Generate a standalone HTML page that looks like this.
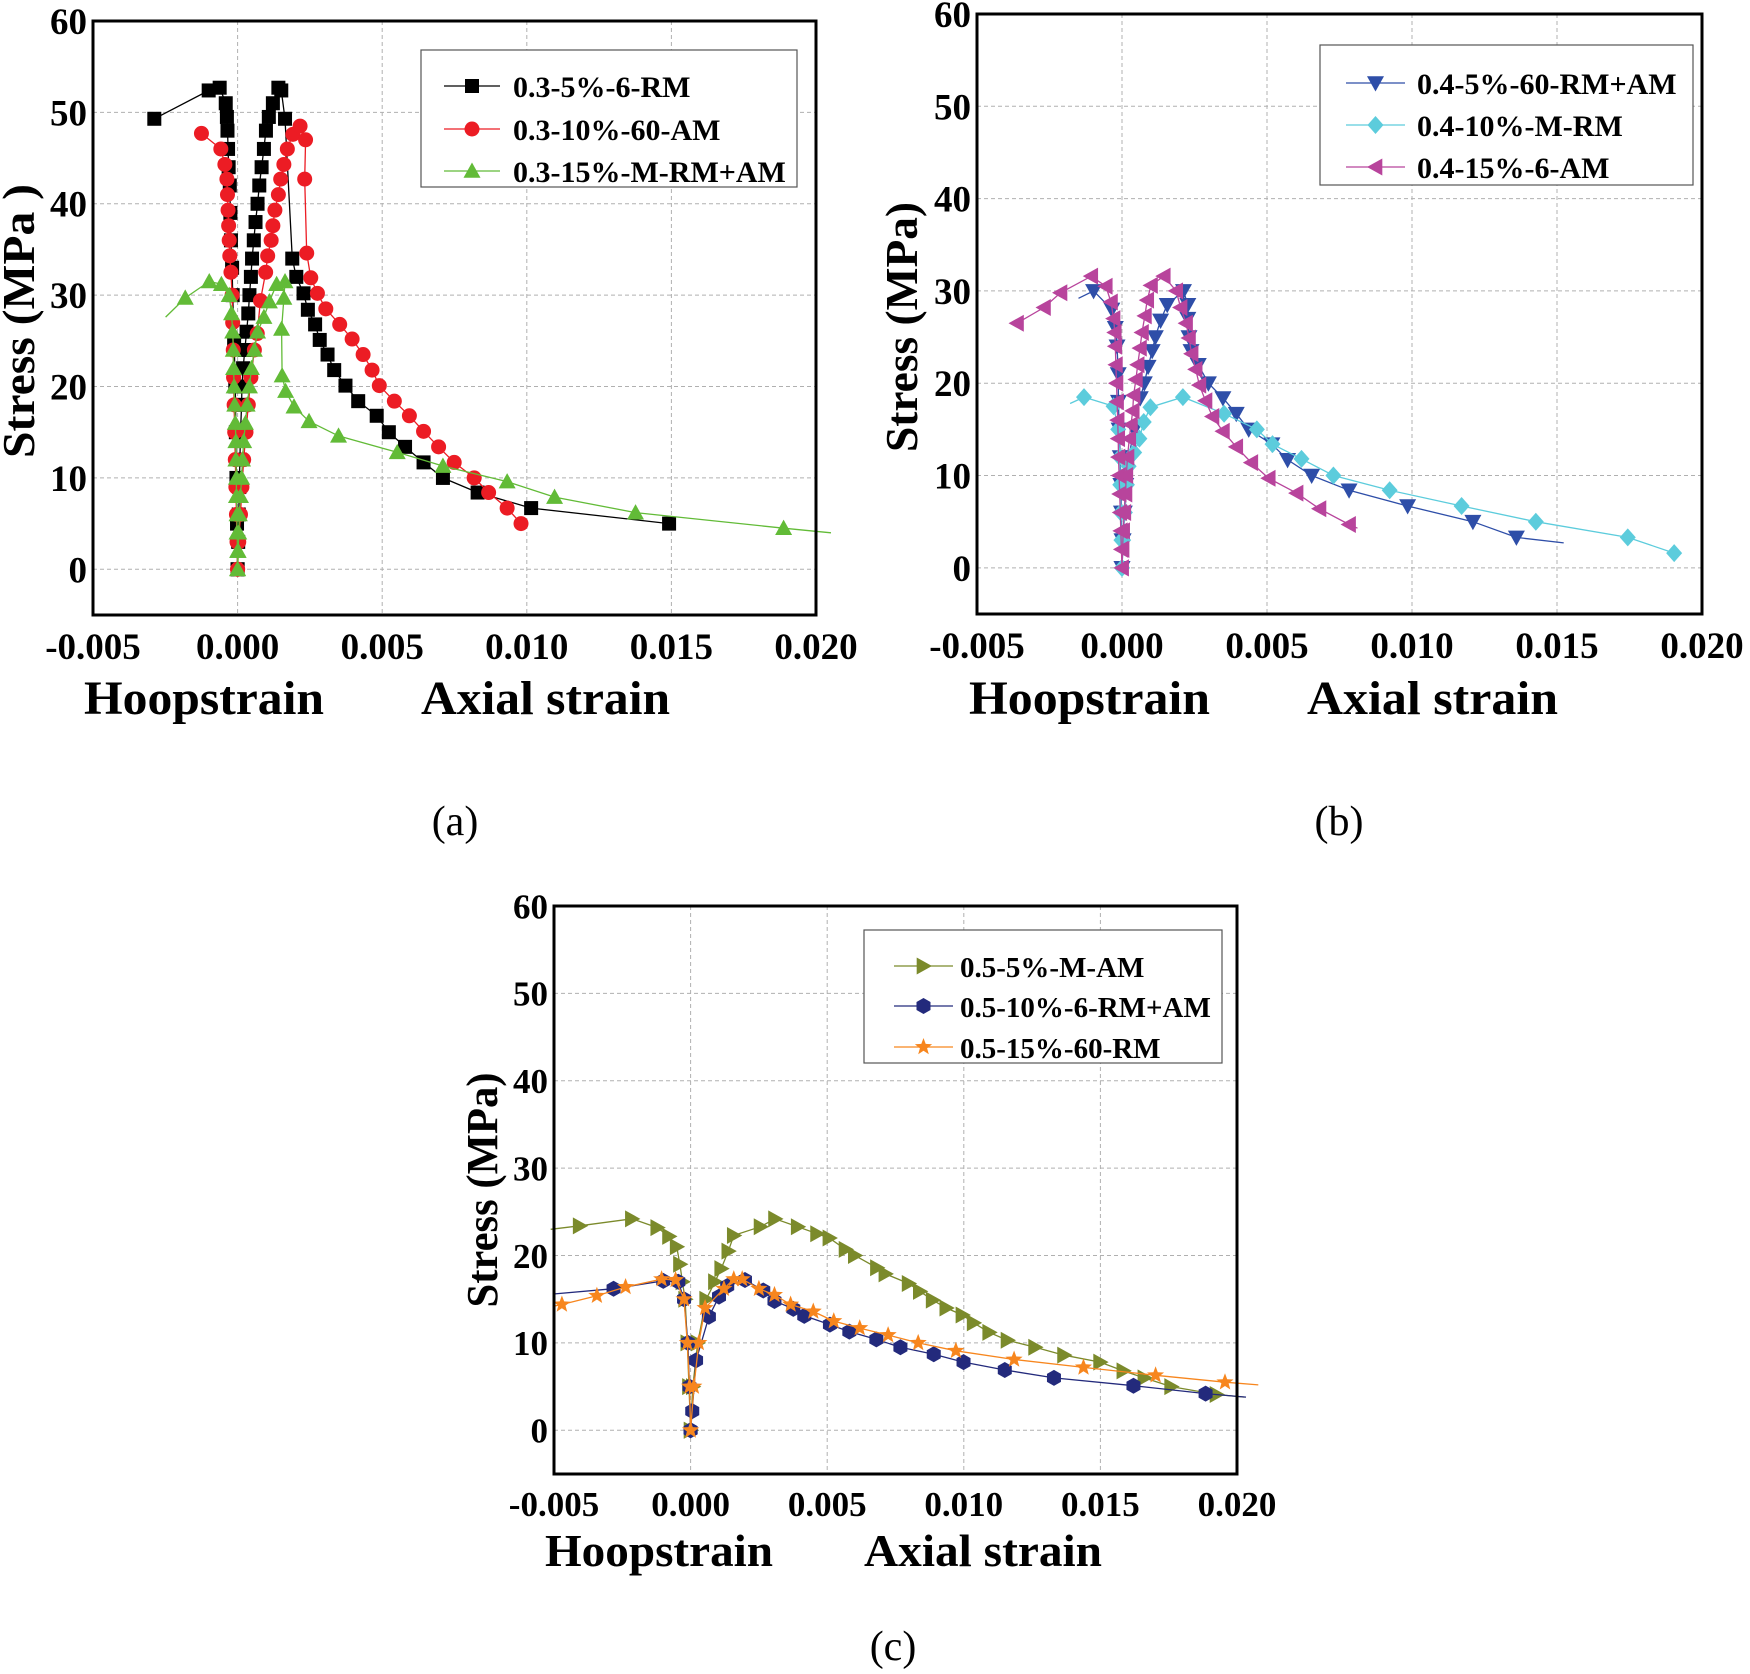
<!DOCTYPE html>
<html><head><meta charset="utf-8"><style>
html,body{margin:0;padding:0;background:#fff;}
svg{display:block;font-family:"Liberation Serif",serif;}
</style></head><body>
<svg id="fig" width="1750" height="1674" viewBox="0 0 1750 1674" xmlns="http://www.w3.org/2000/svg"></svg>
<script>
// ---------- data (strain in 1e-3 units, stress in MPa) ----------
const xTicks = [-0.005, 0.000, 0.005, 0.010, 0.015, 0.020];
const xTickLabels = ["-0.005", "0.000", "0.005", "0.010", "0.015", "0.020"];
const yTicks = [0, 10, 20, 30, 40, 50, 60];
const yTickLabels = ["0", "10", "20", "30", "40", "50", "60"];

// Panel (a)
const a1Names = ["0.3-5%-6-RM", "0.3-10%-60-AM", "0.3-15%-M-RM+AM"];
const a1HoopX = [0,-0.02,-0.04,-0.06,-0.08,-0.12,-0.17,-0.19,-0.23,-0.25,-0.27,-0.31,-0.33,-0.35,-0.37,-0.41,-0.62,-1.0,-2.88];
const a1HoopY = [0,5,10,15,20,25,30,33,36,39,42,44,46,48,49.5,51,52.7,52.4,49.3];
const a1AxX = [0,0.02,0.04,0.06,0.08,0.1,0.14,0.15,0.19,0.25,0.31,0.37,0.41,0.46,0.5,0.56,0.62,0.69,0.75,0.83,0.91,0.98,1.08,1.22,1.41,1.51,1.64,1.89,2.03,2.28,2.43,2.68,2.84,3.11,3.34,3.73,4.17,4.81,5.23,5.79,6.43,7.1,8.3,10.15,14.92];
const a1AxY = [0,3,6,9,12,15,18,20,22,24,26,28,30,32,34,36,38,40,42,44,46,48,49.5,51,52.7,52.4,49.3,34,32,30.2,28.4,26.8,25.1,23.5,21.8,20.1,18.4,16.8,15,13.4,11.7,10,8.4,6.7,5];
const a2HoopX = [0,-0.02,-0.04,-0.06,-0.08,-0.1,-0.12,-0.14,-0.15,-0.17,-0.19,-0.23,-0.27,-0.29,-0.31,-0.33,-0.35,-0.37,-0.44,-0.58,-1.25];
const a2HoopY = [0,3,6,9,12,15,18,21,24,27,30,32.5,34.3,36,37.6,39.3,41,42.7,44.3,46,47.7];
const a2AxX = [0,0.04,0.1,0.15,0.21,0.29,0.37,0.46,0.58,0.68,0.79,0.97,1.04,1.16,1.22,1.29,1.41,1.49,1.6,1.72,1.91,2.16,2.35,2.32,2.39,2.53,2.76,3.05,3.53,3.96,4.34,4.65,4.9,5.42,5.94,6.43,6.95,7.49,8.18,8.68,9.32,9.8];
const a2AxY = [0,3,6,9,12,15,18,21,24,25.8,29.4,32.5,34.3,36,37.6,39.3,41,42.7,44.3,46,47.6,48.5,47,42.7,34.6,31.9,30.2,28.5,26.8,25.2,23.5,21.8,20.1,18.4,16.8,15.1,13.4,11.7,10,8.4,6.7,5];
const a3HoopX = [0,0,-0.02,-0.02,-0.04,-0.04,-0.06,-0.06,-0.08,-0.1,-0.12,-0.14,-0.15,-0.17,-0.21,-0.29,-0.56,-0.98,-1.81];
const a3HoopY = [0,2,4,6,8,10,12,14,16,18,20,22,24,26,28,30,31.2,31.5,29.7];
const a3HoopTail = [-2.49, 27.6];
const a3AxX = [0,0.02,0.04,0.06,0.1,0.14,0.17,0.21,0.27,0.33,0.41,0.48,0.58,0.69,0.91,1.1,1.35,1.64,1.6,1.52,1.54,1.66,1.95,2.47,3.49,5.52,7.1,9.32,10.96,13.76,18.88];
const a3AxY = [0,2,4,6,8,10,12,14,16,18,20,22,24,26,27.6,29.3,31.2,31.5,29.7,26.3,21.2,19.5,17.8,16.2,14.6,12.8,11.3,9.6,7.9,6.2,4.5];
const a3AxTail = [20.52, 4.0];

// Panel (b)
const bNames = ["0.4-5%-60-RM+AM", "0.4-10%-M-RM", "0.4-15%-6-AM"];
const b1HoopX = [0,0,-0.02,-0.04,-0.06,-0.1,-0.12,-0.13,-0.17,-0.23,-0.35,-0.98];
const b1HoopY = [0,3,6,9,12,15,18,21,24,26,28,30];
const b1HoopTail = [-1.5, 29.2];
const b1AxX = [0,0.04,0.08,0.13,0.23,0.42,0.63,0.77,0.9,1.04,1.15,1.33,1.56,2.12,2.27,2.27,2.31,2.38,2.63,2.98,3.48,3.94,4.37,5.17,5.71,6.54,7.83,9.85,12.1,13.6];
const b1AxY = [0,3,6,9,12,15,18.4,20,21.8,23.5,25,26.8,28.5,30,28.5,27,25,23.5,22,20,18.4,16.7,15,13.4,11.7,10,8.4,6.7,5,3.3];
const b1AxTail = [15.23, 2.7];
const b2HoopX = [0,-0.02,-0.04,-0.06,-0.08,-0.13,-0.29,-1.31];
const b2HoopY = [0,3,6,9,12,15,17.5,18.5];
const b2HoopTail = [-1.79, 17.8];
const b2AxX = [0,0.04,0.1,0.17,0.23,0.42,0.6,0.75,0.98,2.1,3.52,4.65,5.19,6.19,7.29,9.23,11.71,14.27,17.44,19.04];
const b2AxY = [0,3,6,9,11,12.5,14,15.8,17.4,18.5,16.7,15,13.4,11.8,10,8.4,6.7,5,3.3,1.6];
const b3HoopX = [0,-0.02,-0.04,-0.06,-0.08,-0.1,-0.12,-0.13,-0.15,-0.17,-0.19,-0.21,-0.23,-0.25,-0.29,-0.38,-0.56,-1.06,-2.12,-2.69,-3.62];
const b3HoopY = [0,2,4,6,8,10,12,14,16,18,20,22,24,25.5,27,28.8,30.5,31.6,29.8,28.2,26.5];
const b3AxX = [0,0.02,0.04,0.08,0.12,0.15,0.19,0.25,0.31,0.37,0.4,0.48,0.54,0.62,0.69,0.79,0.87,1,1.44,1.87,2.02,2.21,2.31,2.4,2.54,2.67,2.88,3.12,3.48,3.94,4.46,5.06,6.02,6.81,7.83];
const b3AxY = [0,2,4,6,8,10,12,14,15.5,17,18.7,20.4,22,23.8,25.5,27.3,29,30.6,31.6,30,28.2,26.5,24.9,23.2,21.5,19.8,18.1,16.4,14.8,13.1,11.4,9.7,8.1,6.4,4.7];
const b3AxTail = [8.12, 4.3];

// Panel (c)
const cNames = ["0.5-5%-M-AM", "0.5-10%-6-RM+AM", "0.5-15%-60-RM"];
const c1HoopX = [0,-0.06,-0.12,-0.2,-0.3,-0.39,-0.51,-0.79,-1.22,-2.15,-4.06];
const c1HoopY = [0,5,10,15,17,19,21,22.2,23.2,24.2,23.4];
const c1HoopTail = [-5.12, 23.0];
const c1AxX = [0,0.08,0.26,0.57,0.89,1.12,1.38,1.58,2.56,3.09,3.92,4.63,5.08,5.67,6.01,6.82,7.13,7.98,8.39,8.86,9.36,9.95,10.36,10.93,11.6,12.61,13.67,14.99,15.84,16.61,17.59,19.25];
const c1AxY = [0,5,10,15,17,18.5,20.5,22.3,23.3,24.2,23.3,22.5,22,20.7,20,18.6,17.9,16.8,15.9,14.9,14,13.2,12.3,11.2,10.3,9.5,8.6,7.8,6.8,6,5,4.1];
const c1AxTail = [20.27, 3.8];
const c2HoopX = [0,-0.04,-0.1,-0.24,-0.45,-1.0,-2.82];
const c2HoopY = [0,5,10,15,17,17.1,16.2];
const c2HoopTail = [-5.02, 15.6];
const c2AxX = [0,0.06,0.2,0.67,1.04,1.34,1.99,2.66,3.07,3.76,4.16,5.1,5.81,6.8,7.68,8.9,9.99,11.5,13.3,16.21,18.85];
const c2AxY = [0,2.2,8,13,15.3,16.5,17.2,16,14.8,13.9,13.1,12.1,11.3,10.4,9.5,8.7,7.8,6.9,6,5.1,4.2];
const c2AxTail = [20.33, 3.8];
const c3HoopX = [0,-0.04,-0.12,-0.24,-0.55,-1.06,-2.38,-3.43,-4.71];
const c3HoopY = [0,5,10,15,17.2,17.3,16.4,15.4,14.4];
const c3HoopTail = [-5.02, 14.2];
const c3AxX = [0,0.12,0.3,0.53,1.22,1.58,1.89,2.5,3.07,3.66,4.49,5.24,6.19,7.23,8.33,9.71,11.84,14.38,17.02,19.56];
const c3AxY = [0,5,10,14,16.2,17.3,17.3,16.2,15.5,14.4,13.6,12.5,11.7,10.9,10,9.1,8.1,7.2,6.3,5.5];
const c3AxTail = [20.78, 5.2];

// ---------- drawing ----------
const NS = "http://www.w3.org/2000/svg";
const svg = document.getElementById('fig');
function mk(tag, attrs, parent) {
  const e = document.createElementNS(NS, tag);
  for (const k in attrs) e.setAttribute(k, attrs[k]);
  (parent || svg).appendChild(e);
  return e;
}
function marker(g, shape, cx, cy, color) {
  let e;
  const s = 8.5;
  if (shape === 'square') e = mk('rect', {x: cx - 7, y: cy - 7, width: 14, height: 14, fill: color}, g);
  else if (shape === 'circle') e = mk('circle', {cx: cx, cy: cy, r: 7.5, fill: color}, g);
  else if (shape === 'up') e = mk('polygon', {points: `${cx},${cy - s} ${cx + s},${cy + s * 0.8} ${cx - s},${cy + s * 0.8}`, fill: color}, g);
  else if (shape === 'down') e = mk('polygon', {points: `${cx},${cy + s} ${cx + s},${cy - s * 0.8} ${cx - s},${cy - s * 0.8}`, fill: color}, g);
  else if (shape === 'left') e = mk('polygon', {points: `${cx - s},${cy} ${cx + s * 0.8},${cy - s} ${cx + s * 0.8},${cy + s}`, fill: color}, g);
  else if (shape === 'right') e = mk('polygon', {points: `${cx + s},${cy} ${cx - s * 0.8},${cy - s} ${cx - s * 0.8},${cy + s}`, fill: color}, g);
  else if (shape === 'diamond') e = mk('polygon', {points: `${cx},${cy - 9} ${cx + 8},${cy} ${cx},${cy + 9} ${cx - 8},${cy}`, fill: color}, g);
  else if (shape === 'hex') e = mk('polygon', {points: `${cx},${cy - 8} ${cx + 7},${cy - 4} ${cx + 7},${cy + 4} ${cx},${cy + 8} ${cx - 7},${cy + 4} ${cx - 7},${cy - 4}`, fill: color}, g);
  else if (shape === 'star') {
    let pts = [];
    for (let i = 0; i < 10; i++) {
      const r = i % 2 ? 3.8 : 9;
      const an = -Math.PI / 2 + i * Math.PI / 5;
      pts.push((cx + r * Math.cos(an)).toFixed(1) + ',' + (cy + r * Math.sin(an)).toFixed(1));
    }
    e = mk('polygon', {points: pts.join(' '), fill: color}, g);
  }
  
  
  return e;
}

function panel(P) {
  const g = mk('g', {});
  
  
  const sx = v => P.x0 + (v - (-0.005)) / 0.025 * (P.x1 - P.x0);
  const sy = v => P.y1 - (v - (-5)) / 65 * (P.y1 - P.y0);
  const grid = mk('g', {stroke: '#b0b0b0', 'stroke-width': 1, 'stroke-dasharray': '4,3'}, g);
  
  
  xTicks.forEach(t => { if (t > -0.005 && t < 0.02) mk('line', {x1: sx(t), x2: sx(t), y1: P.y0, y2: P.y1}, grid); });
  yTicks.forEach(t => { if (t < 60) mk('line', {x1: P.x0, x2: P.x1, y1: sy(t), y2: sy(t)}, grid); });
  const xl = mk('g', {'font-size': P.fs, 'font-weight': 'bold', 'text-anchor': 'middle'}, g);
  
  
  xTicks.forEach((t, i) => { const e = mk('text', {x: sx(t), y: P.y1 + P.xlOff}, xl); e.textContent = xTickLabels[i]; });
  const yl = mk('g', {'font-size': P.fs, 'font-weight': 'bold', 'text-anchor': 'end'}, g);
  
  
  yTicks.forEach((t, i) => { const e = mk('text', {x: P.x0 - 6, y: sy(t) + P.fs * 0.35}, yl); e.textContent = yTickLabels[i]; });
  P.series.forEach((S) => {
    const sg = mk('g', {}, g);
    
    
    const branches = [[S.hx, S.hy, S.ht], [S.ax, S.ay, S.at]];
    branches.forEach(([bx, by, tail]) => {
      const pts = bx.map((v, i) => [sx(v / 1000), sy(by[i])]);
      const linePts = pts.slice();
      if (tail) linePts.push([sx(tail[0] / 1000), sy(tail[1])]);
      const pl = mk('polyline', {points: linePts.map(p => p[0].toFixed(1) + ',' + p[1].toFixed(1)).join(' '), fill: 'none', stroke: S.color, 'stroke-width': 1.3}, sg);
      
      
      pts.forEach(p => marker(sg, S.shape, p[0], p[1], S.color));
    });
  });
  const fr = mk('rect', {x: P.x0, y: P.y0, width: P.x1 - P.x0, height: P.y1 - P.y0, fill: 'none', stroke: '#000', 'stroke-width': 3}, g);
  
  
  const lg = mk('g', {}, g);
  
  
  mk('rect', {x: P.lx0, y: P.ly0, width: P.lx1 - P.lx0, height: P.ly1 - P.ly0, fill: '#fff', stroke: '#555', 'stroke-width': 1.2}, lg);
  P.series.forEach((S, i) => {
    const le = mk('g', {}, lg);
    
    
    const y = P.ley[i];
    mk('line', {x1: P.llx0, x2: P.llx1, y1: y, y2: y, stroke: S.color, 'stroke-width': 1.3}, le);
    marker(le, S.shape, (P.llx0 + P.llx1) / 2, y, S.color);
    const t = mk('text', {x: P.ltx, y: y + 11, 'font-size': P.lfs, 'font-weight': 'bold'}, le);
    t.textContent = S.name;
  });
  const h = mk('text', {x: P.hx, y: P.ty, 'font-size': P.tfs, 'font-weight': 'bold', textLength: P.hl, lengthAdjust: 'spacingAndGlyphs'}, g);
  h.textContent = 'Hoopstrain';
  
  
  const ax = mk('text', {x: P.axx, y: P.ty, 'font-size': P.tfs, 'font-weight': 'bold', textLength: P.al, lengthAdjust: 'spacingAndGlyphs'}, g);
  ax.textContent = 'Axial strain';
  
  
  const yt = mk('text', {x: 0, y: 0, 'font-size': P.tfs - 2, 'font-weight': 'bold', 'text-anchor': 'middle', textLength: P.yl, lengthAdjust: 'spacingAndGlyphs', transform: `translate(${P.ytx},${P.yty}) rotate(-90)`}, g);
  yt.textContent = P.ytitle;
  
  
  const cap = mk('text', {x: P.capx, y: P.capy, 'font-size': 42, 'text-anchor': 'middle'}, g);
  cap.textContent = P.cap;
  
  
}

panel({id: 'panel-a', x0: 93, x1: 816, y0: 21, y1: 615, fs: 37, xlOff: 44, lfs: 30,
  lx0: 421, lx1: 797, ly0: 50, ly1: 187, ley: [86, 129, 171], llx0: 444, llx1: 500, ltx: 513,
  hx: 84, axx: 421, ty: 714, tfs: 48, hl: 240, al: 249, yl: 274, ytx: 34, yty: 321, ytitle: 'Stress  (MPa )', cap: '(a)', capx: 455, capy: 835,
  series: [
    {name: a1Names[0], color: '#000', shape: 'square', hx: a1HoopX, hy: a1HoopY, ax: a1AxX, ay: a1AxY},
    {name: a1Names[1], color: '#ec1c24', shape: 'circle', hx: a2HoopX, hy: a2HoopY, ax: a2AxX, ay: a2AxY},
    {name: a1Names[2], color: '#62bb37', shape: 'up', hx: a3HoopX, hy: a3HoopY, ht: a3HoopTail, ax: a3AxX, ay: a3AxY, at: a3AxTail}
  ]});
panel({id: 'panel-b', x0: 977, x1: 1702, y0: 14, y1: 614, fs: 37, xlOff: 44, lfs: 30,
  lx0: 1320, lx1: 1693, ly0: 45, ly1: 185, ley: [83, 125, 167], llx0: 1346, llx1: 1405, ltx: 1417,
  hx: 969, axx: 1307, ty: 714, tfs: 48, hl: 241, al: 251, yl: 250, ytx: 917, yty: 327, ytitle: 'Stress (MPa)', cap: '(b)', capx: 1339, capy: 835,
  series: [
    {name: bNames[0], color: '#2e4ea8', shape: 'down', hx: b1HoopX, hy: b1HoopY, ht: b1HoopTail, ax: b1AxX, ay: b1AxY, at: b1AxTail},
    {name: bNames[1], color: '#5cccdc', shape: 'diamond', hx: b2HoopX, hy: b2HoopY, ht: b2HoopTail, ax: b2AxX, ay: b2AxY},
    {name: bNames[2], color: '#b8449c', shape: 'left', hx: b3HoopX, hy: b3HoopY, ax: b3AxX, ay: b3AxY, at: b3AxTail}
  ]});
panel({id: 'panel-c', x0: 554, x1: 1237, y0: 906, y1: 1474, fs: 35, xlOff: 42, lfs: 29,
  lx0: 864, lx1: 1222, ly0: 930, ly1: 1063, ley: [966, 1006, 1047], llx0: 894, llx1: 953, ltx: 960,
  hx: 545, axx: 864, ty: 1566, tfs: 46, hl: 228, al: 238, yl: 235, ytx: 497, yty: 1190, ytitle: 'Stress (MPa)', cap: '(c)', capx: 893, capy: 1660,
  series: [
    {name: cNames[0], color: '#7b8a2b', shape: 'right', hx: c1HoopX, hy: c1HoopY, ht: c1HoopTail, ax: c1AxX, ay: c1AxY, at: c1AxTail},
    {name: cNames[1], color: '#232a7c', shape: 'hex', hx: c2HoopX, hy: c2HoopY, ht: c2HoopTail, ax: c2AxX, ay: c2AxY, at: c2AxTail},
    {name: cNames[2], color: '#f7861e', shape: 'star', hx: c3HoopX, hy: c3HoopY, ht: c3HoopTail, ax: c3AxX, ay: c3AxY, at: c3AxTail}
  ]});
</script>
</body></html>
